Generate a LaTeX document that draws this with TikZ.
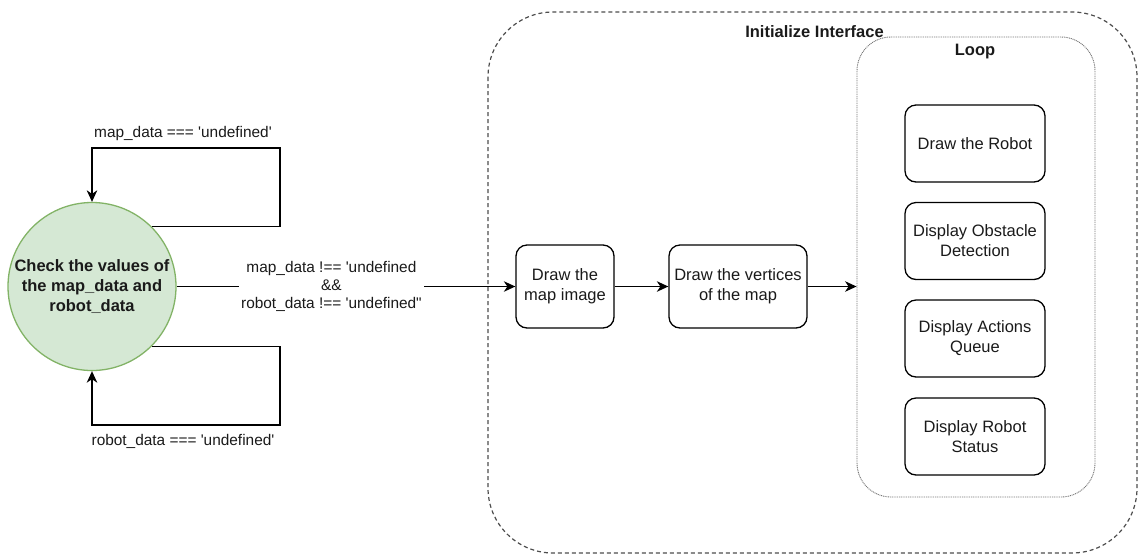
\documentclass[tikz,border=0pt]{standalone}
\usepackage{fontspec}
\setmainfont{Liberation Sans}[Ligatures=TeXOff]
\usetikzlibrary{arrows.meta,positioning}
\definecolor{greenfill}{HTML}{D5E8D4}
\definecolor{greenline}{HTML}{82B366}
\definecolor{contline}{HTML}{4D4D4D}
\definecolor{loopline}{HTML}{777777}
\definecolor{txt}{HTML}{1A1A1A}
\tikzset{
  arr/.style={line width=1.3pt, -{Stealth[length=11.5pt,width=10.5pt,inset=3.5pt]}},
  boxnode/.style={draw=black, line width=1.3pt, rounded corners=11pt, align=center,
    font=\fontsize{16.5}{20}\selectfont, text=txt, inner sep=0pt},
  elabel/.style={font=\fontsize{15.4}{18}\selectfont, align=center, text=txt},
  titlelabel/.style={font=\fontsize{16.5}{20}\selectfont\bfseries, text=txt},
}
\begin{document}
\begin{tikzpicture}[x=1pt,y=-1pt]
\useasboundingbox (0,0) rectangle (1139,558);
% containers
\draw[contline, line width=1.2pt, dash pattern=on 4pt off 3pt, rounded corners=65pt]
  (488,12) rectangle (1137,553);
\node[titlelabel] (inittitle) at (814.5,32) {Initialize Interface};
\node[draw=loopline, line width=0.9pt, dash pattern=on 1pt off 0.8pt, rounded corners=34pt,
  minimum width=238pt, minimum height=460pt, inner sep=0pt] (loop) at (976,267) {};
\node[titlelabel] (looptitle) at (975,52) {Loop};
% circle
\node[circle, draw=greenline, fill=greenfill, line width=1.3pt, minimum size=168pt, inner sep=0pt,
  align=center, font=\fontsize{16.5}{20}\selectfont\bfseries, text=txt] (chk) at (92,286.5)
  {Check the values of\\the map\_data and\\robot\_data};
% boxes
\node[boxnode, minimum width=98pt, minimum height=83pt] (mapimg) at (565,286.5) {Draw the\\map image};
\node[boxnode, minimum width=138pt, minimum height=83pt] (vert) at (738,286.5) {Draw the vertices\\of the map};
\node[boxnode, minimum width=140pt, minimum height=77pt] (robot) at (975,143.5) {Draw the Robot};
\node[boxnode, minimum width=140pt, minimum height=77pt] (obst) at (975,241) {Display Obstacle\\Detection};
\node[boxnode, minimum width=140pt, minimum height=77pt] (queue) at (975,338.5) {Display Actions\\Queue};
\node[boxnode, minimum width=140pt, minimum height=77pt] (status) at (975,436.5) {Display Robot\\Status};
% loops
\coordinate (tl) at (280,148);
\coordinate (br) at (280,425);
\draw[arr] (chk.45) -| (tl) -| (chk.north);
\draw[arr] (chk.-45) -| (br) -| (chk.south);
\node[elabel] (toplab) at (183,134) {map\_data === 'undefined'};
\node[elabel] (botlab) at (183,441) {robot\_data === 'undefined'};
% main edges
\draw[arr] (chk.east) -- node[pos=0.457, elabel, fill=white, inner xsep=2pt, inner ysep=1pt]
  {map\_data !== 'undefined\\\&\&\\robot\_data !== 'undefined"} (mapimg.west);
\draw[arr] (mapimg) -- (vert);
\draw[arr] (vert.east) -- (vert.east -| loop.west);
\end{tikzpicture}
\end{document}
